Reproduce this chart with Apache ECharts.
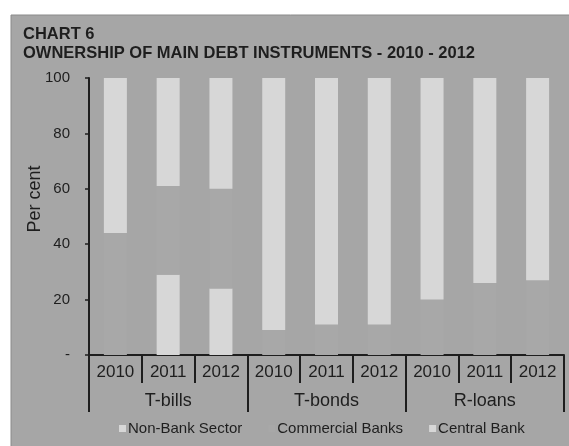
<!DOCTYPE html>
<html>
<head>
<meta charset="utf-8">
<script src="https://cdn.jsdelivr.net/npm/echarts@6/dist/echarts.min.js"></script>
<style>
  html, body { margin: 0; padding: 0; background: #ffffff; }
  #chart { width: 569px; height: 446px; }
</style>
</head>
<body>
<div id="chart"></div>
<script>
// Instrument groups and years shown on the two-level category axis
const groups = ['T-bills', 'T-bonds', 'R-loans'];
const years = ['2010', '2011', '2012'];
const categories = ['2010', '2011', '2012', '2010', '2011', '2012', '2010', '2011', '2012'];

// Ownership shares, per cent (stacked bottom to top)
const centralBank = [0, 29, 24, 0, 0, 0, 0, 0, 0];
const commercialBanks = [44, 32, 36, 9, 11, 11, 20, 26, 27];
const nonBankSector = [56, 39, 40, 91, 89, 89, 80, 74, 73];

// Value axis ticks
const yTicks = [0, 20, 40, 60, 80, 100];

const panel = '#a6a6a6';
const light = '#d7d7d7';
const ink = '#1e1e1e';
const font = 'Liberation Sans, Arial, sans-serif';

const chart = echarts.init(document.getElementById('chart'), null, { renderer: 'canvas' });

chart.setOption({
  backgroundColor: '#ffffff',
  animation: false,
  graphic: [
    {
      type: 'rect', z: -10, silent: true,
      shape: { x: 11, y: 15, width: 560, height: 433 },
      style: { fill: panel, stroke: '#8a8a8a', lineWidth: 1 }
    },
    {
      type: 'text', left: 23, top: 25, silent: true,
      style: {
        text: 'CHART 6\nOWNERSHIP OF MAIN DEBT INSTRUMENTS - 2010 - 2012',
        font: 'bold 16.5px ' + font, fill: ink, lineHeight: 19
      }
    },
    {
      type: 'text', silent: true, x: 35, y: 199, rotation: Math.PI / 2,
      style: {
        text: 'Per cent', font: '18px ' + font, fill: ink,
        align: 'center', verticalAlign: 'middle'
      }
    }
  ],
  grid: { left: 89, right: 5, top: 78, bottom: 91, containLabel: false },
  legend: {
    left: 114, top: 416,
    itemWidth: 7, itemHeight: 7, itemGap: 26,
    icon: 'rect',
    textStyle: { fontSize: 15, color: ink, fontFamily: font, padding: [0, 0, 0, -3] },
    data: ['Non-Bank Sector', 'Commercial Banks', 'Central Bank']
  },
  xAxis: [
    {
      type: 'category', data: categories, position: 'bottom',
      axisLine: { lineStyle: { color: ink, width: 2 } },
      axisTick: { show: true, length: 28, interval: 0, lineStyle: { color: ink, width: 2 } },
      axisLabel: { fontSize: 17, color: ink, fontFamily: font, margin: 9, interval: 0 },
      splitLine: { show: false }
    },
    {
      type: 'category', data: groups, position: 'bottom',
      axisLine: { show: false },
      axisTick: { show: true, length: 57, interval: 0, lineStyle: { color: ink, width: 2 } },
      axisLabel: { fontSize: 18, color: ink, fontFamily: font, margin: 37, interval: 0 },
      splitLine: { show: false }
    }
  ],
  yAxis: {
    type: 'value', min: yTicks[0], max: yTicks[yTicks.length - 1], interval: 20,
    axisLine: { show: true, lineStyle: { color: ink, width: 2 } },
    axisTick: { show: true, length: 4, lineStyle: { color: ink, width: 1.5 } },
    axisLabel: {
      fontSize: 15, color: ink, fontFamily: font, margin: 19,
      formatter: v => (v === 0 ? '-' : String(v))
    },
    splitLine: { show: false }
  },
  series: [
    {
      name: 'Central Bank', type: 'bar', stack: 'own', data: centralBank,
      barWidth: 23, itemStyle: { color: light }
    },
    {
      name: 'Commercial Banks', type: 'bar', stack: 'own', data: commercialBanks,
      barWidth: 23, itemStyle: { color: '#a8a8a8' }
    },
    {
      name: 'Non-Bank Sector', type: 'bar', stack: 'own', data: nonBankSector,
      barWidth: 23, itemStyle: { color: light }
    }
  ]
});
</script>
</body>
</html>
